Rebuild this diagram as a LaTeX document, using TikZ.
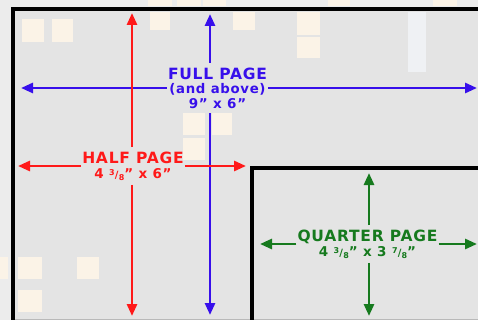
\documentclass[tikz,border=0pt]{standalone}
\usepackage{fontspec}
\setmainfont{DejaVu Sans}
\newfontfamily\labfont[LetterSpace=5]{DejaVu Sans}
\usetikzlibrary{arrows.meta}
\definecolor{fpblue}{RGB}{55,15,235}
\definecolor{hpred}{RGB}{255,25,25}
\definecolor{qpgreen}{RGB}{22,122,30}
\definecolor{bgc}{RGB}{228,228,228}
\definecolor{bgl}{RGB}{236,236,236}
\definecolor{sqc}{RGB}{251,243,231}
\definecolor{stripc}{RGB}{239,241,244}
\newcommand\myfrac[2]{\raisebox{3.6pt}{\fontsize{8}{8}\selectfont #1}\kern0.2pt{\fontsize{10}{10}\selectfont /}\kern0.2pt\raisebox{-1.4pt}{\fontsize{8}{8}\selectfont #2}}
\tikzset{
  arr/.style={line width=2.7pt, -{Triangle[length=12pt,width=10pt]}},
  lab/.style={align=center, inner xsep=1pt, inner ysep=4.5pt, font=\labfont\bfseries\fontsize{15.5}{14}\selectfont},
  frame/.style={draw=black, line width=4pt}
}
\begin{document}
\begin{tikzpicture}[x=1pt,y=-1pt]
\useasboundingbox (0,0) rectangle (478,320);
% background
\fill[bgl] (0,0) rectangle (478,320);
\fill[bgc] (13,9.5) rectangle (478,320);
% faint decoration squares
\foreach \a/\b/\c/\d in {148/0/172/6,177/0/201/6,203/0/226/6,328/0/350/6,433/0/457/6,
  22/19/44/42,52/19/73/42,150/12/170/30,233/12/255/30,297/12/320/35,297/37/320/58,
  183/113/205/135,212/113/232/135,183/138/205/160,
  18/257/42/279,18/290/42/312,77/257/99/279,0/257/8/279}
  {\fill[sqc] (\a,\b) rectangle (\c,\d);}
\fill[stripc] (408,12) rectangle (426,72);
\draw[gray!55, line width=0.8pt] (13,319.6) -- (478,319.6);
% frames
\draw[frame] (13,322) -- (13,9.5) -- (480,9.5);
\draw[frame] (252,322) -- (252,168) -- (480,168);
% labels
\node[lab, text=fpblue] (full) at (217.5,88)
  {FULL PAGE\\[0.5pt]{\fontsize{13.3}{14}\selectfont (and above)}\\[0.5pt]{\fontsize{13.5}{14}\selectfont 9” x 6”}};
\node[lab, text=hpred] (half) at (133,166)
  {HALF PAGE\\[1.5pt]{\fontsize{13.5}{14}\selectfont 4 \myfrac{3}{8}” x 6”}};
\node[lab, text=qpgreen] (quarter) at (367.5,244)
  {QUARTER PAGE\\[1.5pt]{\fontsize{13.5}{14}\selectfont 4 \myfrac{3}{8}” x 3 \myfrac{7}{8}”}};
% arrow tips
\coordinate (fT) at (210,14);
\coordinate (fB) at (210,315);
\coordinate (fL) at (21,88);
\coordinate (fR) at (477,88);
\coordinate (hT) at (132,13);
\coordinate (hB) at (132,316);
\coordinate (hL) at (18,166);
\coordinate (hR) at (246,166);
\coordinate (qT) at (369,173);
\coordinate (qB) at (369,316);
\coordinate (qL) at (260,244);
\coordinate (qR) at (477,244);
% blue arrows
\draw[arr, fpblue] (full.north -| fT) -- (fT);
\draw[arr, fpblue] (full.south -| fB) -- (fB);
\draw[arr, fpblue] (full.west) -- (fL);
\draw[arr, fpblue] (full.east) -- (fR);
% red arrows
\draw[arr, hpred] (half.north -| hT) -- (hT);
\draw[arr, hpred] (half.south -| hB) -- (hB);
\draw[arr, hpred] (half.west) -- (hL);
\draw[arr, hpred] (half.east) -- (hR);
% green arrows
\draw[arr, qpgreen] (quarter.north -| qT) -- (qT);
\draw[arr, qpgreen] (quarter.south -| qB) -- (qB);
\draw[arr, qpgreen] (quarter.west) -- (qL);
\draw[arr, qpgreen] (quarter.east) -- (qR);
\end{tikzpicture}
\end{document}
